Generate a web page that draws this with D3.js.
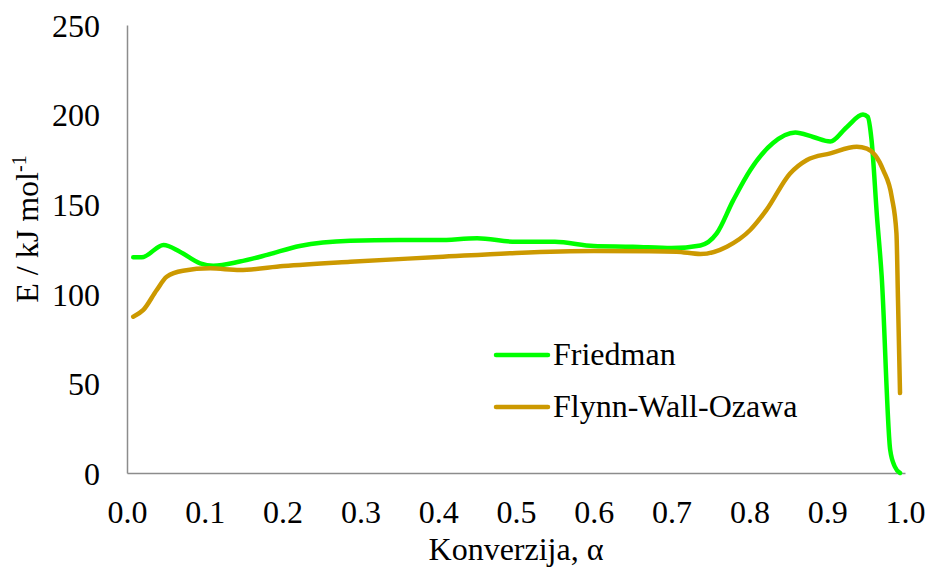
<!DOCTYPE html>
<html>
<head>
<meta charset="utf-8">
<script src="https://cdn.jsdelivr.net/npm/d3@7/dist/d3.min.js"></script>
</head>
<body style="margin:0;background:#fff">
<svg id="chart" width="933" height="572" font-family="Liberation Serif"></svg>
<script>
// podaci očitani s grafa (E u kJ/mol, α konverzija)
const friedmanX = [0.008, 0.019, 0.047, 0.068, 0.094, 0.111, 0.145, 0.18, 0.222, 0.287, 0.35, 0.4, 0.45, 0.5, 0.55, 0.6, 0.65, 0.7, 0.737, 0.758, 0.779, 0.801, 0.83, 0.859, 0.882, 0.904, 0.925, 0.946, 0.952, 0.957, 0.964, 0.970, 0.981, 0.987, 0.9936];
const friedmanE = [120.4, 120.4, 127.2, 123.5, 117, 115.7, 118, 121.7, 126.7, 129.6, 130, 130, 131, 129, 129, 126.7, 126.3, 125.5, 127, 133.7, 152, 169, 184, 190, 187.5, 185, 193, 200, 198.8, 185.8, 143, 110, 12.8, 3.5, 0];

const fwoX = [0.008, 0.021, 0.038, 0.051, 0.072, 0.107, 0.145, 0.201, 0.287, 0.4, 0.5, 0.6, 0.672, 0.7065, 0.737, 0.771, 0.801, 0.822, 0.852, 0.874, 0.904, 0.938, 0.951, 0.972, 0.983, 0.989, 0.991, 0.9936];
const fwoE = [87.2, 91, 102, 109.5, 112.9, 114.2, 113.3, 115.5, 117.9, 120.5, 122.8, 123.9, 123.8, 123.5, 122.2, 126.3, 135.6, 146.8, 167, 174.7, 178.4, 182, 181, 169, 154, 133.8, 96.5, 44.6];

const xTicks = [0, 0.1, 0.2, 0.3, 0.4, 0.5, 0.6, 0.7, 0.8, 0.9, 1.0];
const yTicks = [0, 50, 100, 150, 200, 250];

const seriesNames = ['Friedman', 'Flynn-Wall-Ozawa'];
const seriesColors = ['#00FF00', '#CC9900'];

const FONT = 'Liberation Serif';
const FS = 32;

const svg = d3.select('#chart');
const plot = { left: 127, right: 905, top: 25, bottom: 473 };

const x = d3.scaleLinear().domain([0, 1]).range([plot.left, plot.right]);
const y = d3.scaleLinear().domain([0, 250]).range([plot.bottom, plot.top]);

// osi (samo linije, bez crtica)
const xAxis = svg.append('g').attr('transform', `translate(0,${plot.bottom})`)
  .call(d3.axisBottom(x).tickValues(xTicks).tickSize(0).tickPadding(0).tickFormat(d3.format('.1f')));
const yAxis = svg.append('g').attr('transform', `translate(${plot.left},0)`)
  .call(d3.axisLeft(y).tickValues(yTicks).tickSize(0).tickPadding(27));
[xAxis, yAxis].forEach((a) => {
  a.attr('font-family', FONT).attr('font-size', FS);
  a.select('.domain').attr('stroke', '#8c8c8c').attr('stroke-width', 1.5);
  a.selectAll('text').attr('font-family', FONT).attr('font-size', FS).attr('fill', '#000');
});
xAxis.selectAll('text').attr('y', 50).attr('dy', null);
yAxis.selectAll('text').attr('dy', '0.35em');

// naslovi osi
svg.append('text')
  .attr('x', 516).attr('y', 560)
  .attr('text-anchor', 'middle')
  .attr('font-family', FONT).attr('font-size', FS)
  .text('Konverzija, α');

const yt = svg.append('text')
  .attr('transform', 'translate(38,229) rotate(-90)')
  .attr('text-anchor', 'middle')
  .attr('font-family', FONT).attr('font-size', FS);
yt.append('tspan').text('E / kJ mol');
yt.append('tspan').attr('font-size', 20).attr('dy', -12).text('-1');

// linije
const line = d3.line().x((d) => x(d[0])).y((d) => y(d[1])).curve(d3.curveMonotoneX);
const series = [
  d3.zip(friedmanX, friedmanE),
  d3.zip(fwoX, fwoE)
];
series.forEach((s, i) => {
  svg.append('path').datum(s)
    .attr('fill', 'none').attr('stroke', seriesColors[i])
    .attr('stroke-width', 4.5).attr('stroke-linecap', 'round').attr('stroke-linejoin', 'round')
    .attr('d', line);
});

// legenda
const leg = svg.append('g').attr('transform', 'translate(496,355)');
seriesNames.forEach((n, i) => {
  const g = leg.append('g').attr('transform', `translate(0,${i * 52})`);
  g.append('line').attr('x1', 0).attr('x2', 52).attr('y1', 0).attr('y2', 0)
    .attr('stroke', seriesColors[i]).attr('stroke-width', 4.5).attr('stroke-linecap', 'round');
  g.append('text').attr('x', 57).attr('y', 10)
    .attr('font-family', FONT).attr('font-size', FS).text(n);
});
</script>
</body>
</html>
